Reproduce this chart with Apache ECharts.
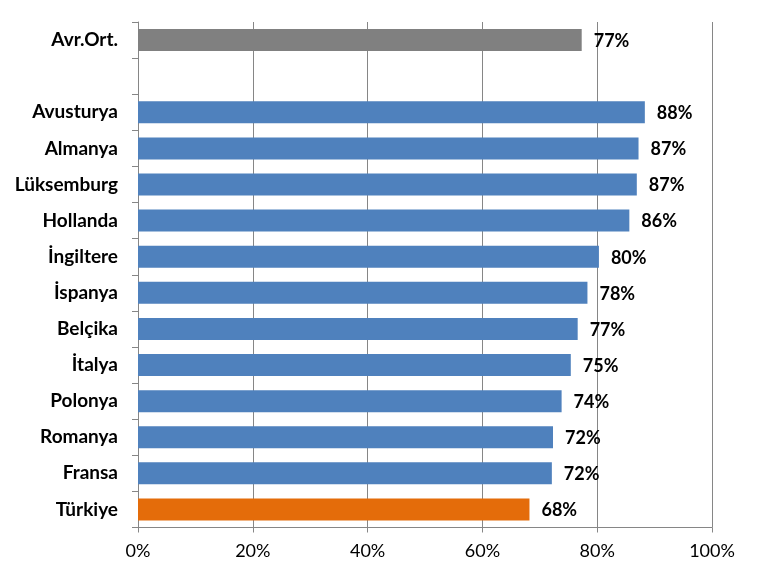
<!DOCTYPE html>
<html>
<head>
<meta charset="utf-8">
<script src="https://cdn.jsdelivr.net/npm/echarts@6/dist/echarts.min.js"></script>
<style>
  html, body { margin: 0; padding: 0; background: #fff; }
  #chart { width: 758px; height: 579px; }
</style>
</head>
<body>
<div id="chart"></div>
<script>
// categories top to bottom, '' is the empty slot under the average
var countries = ['Avr.Ort.', '', 'Avusturya', 'Almanya', 'Lüksemburg', 'Hollanda', 'İngiltere',
    'İspanya', 'Belçika', 'İtalya', 'Polonya', 'Romanya', 'Fransa', 'Türkiye'];
var shares = [77.3, null, 88.3, 87.2, 86.9, 85.6, 80.3, 78.3, 76.6, 75.4, 73.8, 72.3, 72.1, 68.2];
var xTicks = [0, 20, 40, 60, 80, 100];

var FONT = 'Lato, "Open Sans", sans-serif';

function barColor(name) {
    if (name == 'Avr.Ort.') return '#808080';
    if (name == 'Türkiye') return '#E46C0A';
    return '#4F81BD';
}

var barData = [];
countries.forEach(function (name, i) {
    if (shares[i] == null) {
        barData.push('-');
        return;
    }
    barData.push({ value: shares[i], itemStyle: { color: barColor(name) } });
});

var chart = echarts.init(document.getElementById('chart'), null, { renderer: 'canvas' });
chart.setOption({
    animation: false,
    grid: { left: 138, right: 46, top: 22, bottom: 51.5, containLabel: false },
    xAxis: {
        type: 'value',
        min: xTicks[0],
        max: xTicks[xTicks.length - 1],
        interval: 20,
        axisLine: { show: true, lineStyle: { color: '#868686', width: 1 } },
        axisTick: { show: true, length: 5, lineStyle: { color: '#868686' } },
        splitLine: { show: true, lineStyle: { color: '#868686', width: 1 } },
        axisLabel: {
            margin: 15,
            fontFamily: FONT,
            fontSize: 18,
            color: '#000',
            formatter: function (v) { return v + '%'; }
        }
    },
    yAxis: {
        type: 'category',
        inverse: true,
        data: countries,
        axisLine: { show: true, lineStyle: { color: '#868686', width: 1 } },
        axisTick: { show: true, length: 6, lineStyle: { color: '#868686' } },
        splitLine: { show: false },
        axisLabel: {
            margin: 20,
            fontFamily: FONT,
            fontSize: 19,
            fontWeight: 'bold',
            color: '#000'
        }
    },
    series: [{
        type: 'bar',
        data: barData,
        barWidth: 22,
        label: {
            show: true,
            position: 'right',
            distance: 12,
            offset: [0, 1],
            fontFamily: FONT,
            fontSize: 18,
            fontWeight: 'bold',
            color: '#000',
            formatter: function (p) { return Math.round(p.value) + '%'; }
        }
    }]
});
</script>
</body>
</html>
